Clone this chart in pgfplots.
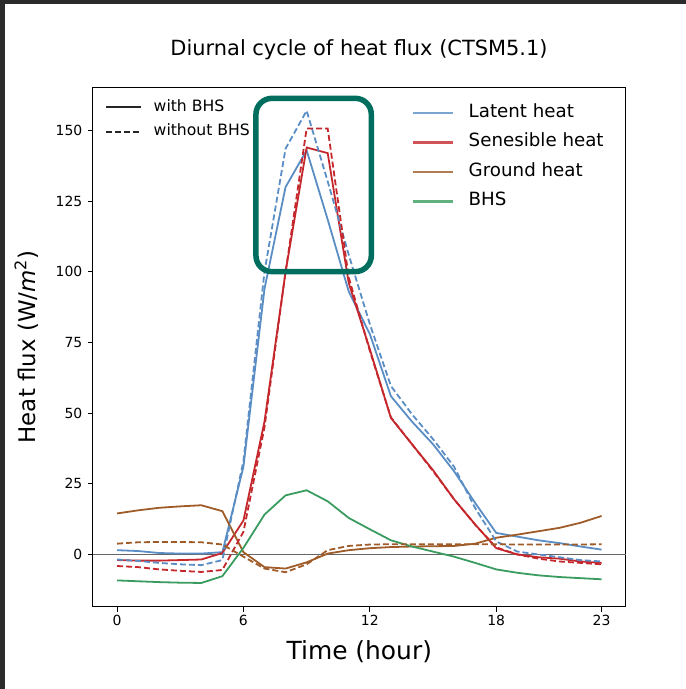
\documentclass[border=0pt]{standalone}
\usepackage{pgfplots}
\pgfplotsset{compat=1.18}
\usepackage{pgfplotstable}
\usepackage{fontspec}
\setmainfont{DejaVu Sans}
\definecolor{cLat}{RGB}{90,141,196}
\definecolor{cSen}{RGB}{196,40,45}
\definecolor{cGro}{RGB}{160,92,40}
\definecolor{cBHS}{RGB}{58,156,96}
\definecolor{cBox}{RGB}{0,110,95}
\definecolor{cDark}{RGB}{43,43,43}

\pgfplotstableread{
h  LS    LD     SS    SD    GS    GD    BHS
0  1.5   -1.8   -2.0  -4.1  14.5  3.8   -9.2
1  1.2   -2.3   -2.2  -4.5  15.6  4.3   -9.5
2  0.5   -3.0   -2.2  -5.3  16.5  4.4   -9.8
3  0.3   -3.5   -2.0  -5.8  17.0  4.4   -10.0
4  0.3   -3.8   -1.8  -6.2  17.4  4.3   -10.1
5  0.8   -2.0   0.5   -5.5  15.3  3.5   -7.7
6  31    33     12    8     0.8   -0.8  2.3
7  94    100    47    45    -4.5  -5.0  14.1
8  130   143.6  100   100   -5.0  -6.3  20.9
9  143   157    144   150.7 -2.8  -3.5  22.7
10 118.5 132    142   150.7 0.3   1.5   18.8
11 93    106    96    98    1.5   3.0   12.9
12 78    81.5   72.6  72    2.2   3.5   8.9
13 56    59.6   48.3  48.5  2.6   3.6   5.0
14 47    49.6   39    39    2.8   3.6   2.8
15 39    40.8   29.8  29.5  2.9   3.6   1.0
16 29.4  31     19.5  19.5  3.0   3.6   -0.8
17 18.2  16.4   10.6  10.5  3.8   3.6   -3.0
18 7.6   4.6    2.2   2.5   5.9   3.6   -5.3
19 6.3   1.0    0.0   0.0   7.0   3.5   -6.5
20 5.0   0.0    -1.0  -1.5  8.2   3.5   -7.4
21 4.0   -1.0   -1.5  -2.5  9.4   3.5   -8.0
22 2.8   -2.0   -2.5  -3.0  11.2  3.5   -8.4
23 1.7   -2.5   -3.0  -3.5  13.6  3.6   -8.8
}\data

\begin{document}
\begin{tikzpicture}
\path[use as bounding box] (0bp,0bp) rectangle (686bp,689bp);
\fill[cDark] (0bp,0bp) rectangle (5bp,689bp);
\fill[cDark] (0bp,685bp) rectangle (686bp,689bp);
\begin{axis}[
  at={(92.8bp,82.3bp)}, anchor=south west,
  scale only axis, width=533bp, height=519.4bp,
  xmin=-1.15, xmax=24.15, ymin=-18.5, ymax=165.3,
  axis line style={black, line width=0.9bp},
  tick style={black, line width=0.9bp},
  tick align=outside, xtick pos=bottom, ytick pos=left,
  major tick length=5bp,
  xtick={0,6,12,18,23}, ytick={0,25,50,75,100,125,150},
  ticklabel style={font=\fontsize{14}{16}\selectfont},
  yticklabel style={xshift=-2bp},
  /pgf/number format/assume math mode=true,
  title={Diurnal cycle of heat flux (CTSM5.1)},
  title style={at={(axis description cs:0.4995,1.0493)}, anchor=base, font=\fontsize{21}{25}\selectfont},
  xlabel={Time (hour)},
  xlabel style={at={(axis description cs:0.5,-0.1026)}, anchor=base, font=\fontsize{25}{30}\selectfont},
  ylabel={Heat flux (W/\textit{m}\textsuperscript{2})},
  ylabel style={at={(axis description cs:-0.1245,0.5)}, anchor=center, rotate=0, font=\fontsize{23}{28}\selectfont},
  legend image code/.code={\draw[#1] (0bp,0bp) -- (40bp,0bp);},
  legend cell align=left,
  legend style={at={(rel axis cs:0.598,0.979)}, anchor=north west, draw=none, fill=none,
    inner sep=0pt, outer sep=0pt, column sep=15bp, row sep=0pt,
    font=\fontsize{18.3}{22}\selectfont,
    nodes={inner sep=0pt, text height=19bp, text depth=10.5bp}},
]
\addplot[black!60, line width=0.8bp, forget plot] coordinates {(-1.15,0) (24.15,0)};
\addplot[cLat, line width=1.8bp, forget plot] table[x=h, y=LS] {\data};
\addplot[cSen, line width=1.8bp, forget plot] table[x=h, y=SS] {\data};
\addplot[cGro, line width=1.8bp, forget plot] table[x=h, y=GS] {\data};
\addplot[cBHS, line width=1.8bp, forget plot] table[x=h, y=BHS] {\data};
\addplot[cLat, line width=1.8bp, dash pattern=on 6bp off 3bp, forget plot] table[x=h, y=LD] {\data};
\addplot[cSen, line width=1.8bp, dash pattern=on 6bp off 3bp, forget plot] table[x=h, y=SD] {\data};
\addplot[cGro, line width=1.8bp, dash pattern=on 6bp off 3bp, forget plot] table[x=h, y=GD] {\data};
\addlegendimage{cLat, line width=2.2bp, opacity=0.8}
\addlegendentry{Latent heat}
\addlegendimage{cSen, line width=2.2bp, opacity=0.8}
\addlegendentry{Senesible heat}
\addlegendimage{cGro, line width=2.2bp, opacity=0.8}
\addlegendentry{Ground heat}
\addlegendimage{cBHS, line width=2.2bp, opacity=0.8}
\addlegendentry{BHS}
\draw[cBox, line width=5.5bp, rounded corners=16bp] (axis cs:6.594,100.07) rectangle (axis cs:12.07,161.4);
\end{axis}
\begin{axis}[
  at={(92.8bp,82.3bp)}, anchor=south west,
  scale only axis, width=533bp, height=519.4bp,
  xmin=0, xmax=1, ymin=0, ymax=1, hide axis,
  legend image code/.code={\draw[#1] (0bp,0bp) -- (35bp,0bp);},
  legend cell align=left,
  legend style={at={(rel axis cs:0.0229,0.985)}, anchor=north west, draw=none, fill=none,
    inner sep=0pt, outer sep=0pt, column sep=11.7bp, row sep=0pt,
    font=\fontsize{15.7}{19}\selectfont,
    nodes={inner sep=0pt, text height=16bp, text depth=8.4bp}},
]
\addlegendimage{black!85, line width=2bp}
\addlegendentry{with BHS}
\addlegendimage{black!85, line width=2bp, dash pattern=on 6bp off 3bp}
\addlegendentry{without BHS}
\end{axis}
\end{tikzpicture}
\end{document}
